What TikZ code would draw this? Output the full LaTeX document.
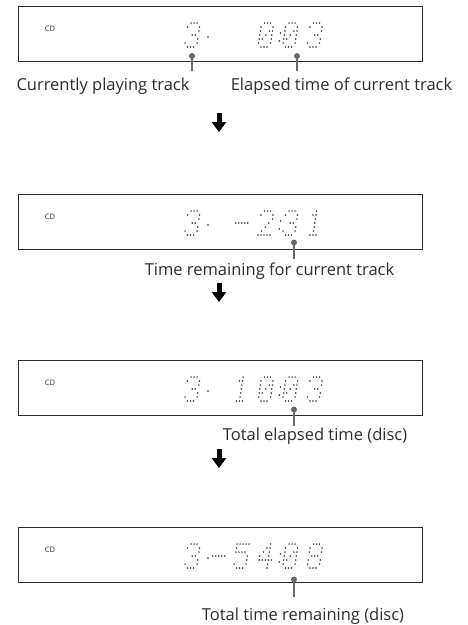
\documentclass[tikz,border=0pt]{standalone}
\usepackage{fontspec}
\setsansfont{Open Sans}
\usetikzlibrary{arrows.meta,positioning}
\definecolor{ink}{RGB}{45,45,45}
\definecolor{pinc}{RGB}{105,105,105}
\definecolor{lcd}{RGB}{45,45,45}

% 5x7 dot matrix glyphs, col/row (row 0 = top)
\def\dmthree{1/0,2/0,3/0,0/1,4/1,4/2,2/3,3/3,4/4,0/5,4/5,1/6,2/6,3/6}
\def\dmzero{1/0,2/0,3/0,0/1,4/1,0/2,3/2,4/2,0/3,2/3,4/3,0/4,1/4,4/4,0/5,4/5,1/6,2/6,3/6}
\def\dmone{2/0,1/1,2/1,2/2,2/3,2/4,2/5,1/6,2/6,3/6}
\def\dmtwo{1/0,2/0,3/0,0/1,4/1,4/2,3/3,2/4,1/5,0/6,1/6,2/6,3/6,4/6}
\def\dmfour{3/0,2/1,3/1,1/2,3/2,0/3,3/3,0/4,1/4,2/4,3/4,4/4,3/5,3/6}
\def\dmfive{0/0,1/0,2/0,3/0,4/0,0/1,0/2,1/2,2/2,3/2,4/3,4/4,0/5,4/5,1/6,2/6,3/6}
\def\dmeight{1/0,2/0,3/0,0/1,4/1,0/2,4/2,1/3,2/3,3/3,0/4,4/4,0/5,4/5,1/6,2/6,3/6}
\def\dmdash{0/3,1/3,2/3,3/3,4/3}

\newcommand\dmglyph[3]{% x of bottom-left dot, panel top, glyph
  \edef\dmlist{#3}
  \foreach \c/\r in \dmlist \fill[lcd] ({#1+\c*3+(6-\r)*0.6},{#2+17+\r*4}) circle (0.85pt);}

\newcommand\dmpanel[3]{% name, panel top, glyphs
  \node[panel] (#1) at (220,{#2+27.5}) {};
  \node[cdlabel] at (50,{#2+22.5}) {CD};
  \fill[lcd] (208,{#2+31}) circle (0.95pt);
  \fill[lcd] (280.5,{#2+27}) circle (0.85pt) (279.3,{#2+35}) circle (0.85pt);
  \foreach \g/\x in {#3} {\dmglyph{\x}{#2}{\g}}}

\tikzset{
  panel/.style={draw=ink,line width=0.9pt,minimum width=404pt,minimum height=55pt,inner sep=0pt},
  cdlabel/.style={font=\sffamily\fontsize{7.5}{8}\selectfont,text=ink,inner sep=0pt},
  caption/.style={font=\sffamily\fontsize{16.5}{18}\selectfont,text=ink,inner sep=0pt},
  pin/.style={draw=pinc,line width=2.2pt},
  nextstep/.style={line width=5pt,-{Triangle[width=14pt,length=10pt]}}
}

\begin{document}
\begin{tikzpicture}[x=1pt,y=-1pt]
  \useasboundingbox (0,0) rectangle (467,625);

  % displays
  \dmpanel{d1}{6}{\dmthree/184.5,\dmzero/258,\dmzero/282.5,\dmthree/307}
  \dmpanel{d2}{194}{\dmthree/184.5,\dmdash/234,\dmtwo/258,\dmthree/282.5,\dmone/307}
  \dmpanel{d3}{360}{\dmthree/184.5,\dmone/233.5,\dmzero/258,\dmzero/282.5,\dmthree/307}
  \dmpanel{d4}{527}{\dmthree/184.5,\dmdash/211,\dmfive/233.5,\dmfour/258,\dmzero/282.5,\dmeight/307}

  % captions
  \node[caption] (t1) at (103,86) {Currently playing track};
  \node[caption] (t2) at (341.5,86) {Elapsed time of current track};
  \node[caption] (t3) at (269.5,271) {Time remaining for current track};
  \node[caption] (t4) at (315,436) {Total elapsed time (disc)};
  \node[caption] (t5) at (303,616) {Total time remaining (disc)};

  % pins
  \coordinate (p1) at (192,56);    \coordinate (q1) at (192,71);
  \coordinate (p2) at (297,56);    \coordinate (q2) at (297,71);
  \coordinate (p3) at (294,242.5); \coordinate (q3) at (294,259);
  \coordinate (p4) at (294,409.5); \coordinate (q4) at (294,426);
  \coordinate (p5) at (294,579.5); \coordinate (q5) at (294,597);
  \foreach \i in {1,...,5} {\draw[pin] (p\i) -- (q\i); \fill[pinc] (p\i) circle (3pt);}

  % arrows
  \coordinate (a1) at (219,113); \coordinate (b1) at (219,132);
  \coordinate (a2) at (219,283); \coordinate (b2) at (219,302);
  \coordinate (a3) at (219,449); \coordinate (b3) at (219,468);
  \foreach \i in {1,2,3} \draw[nextstep] (a\i) -- (b\i);
\end{tikzpicture}
\end{document}
